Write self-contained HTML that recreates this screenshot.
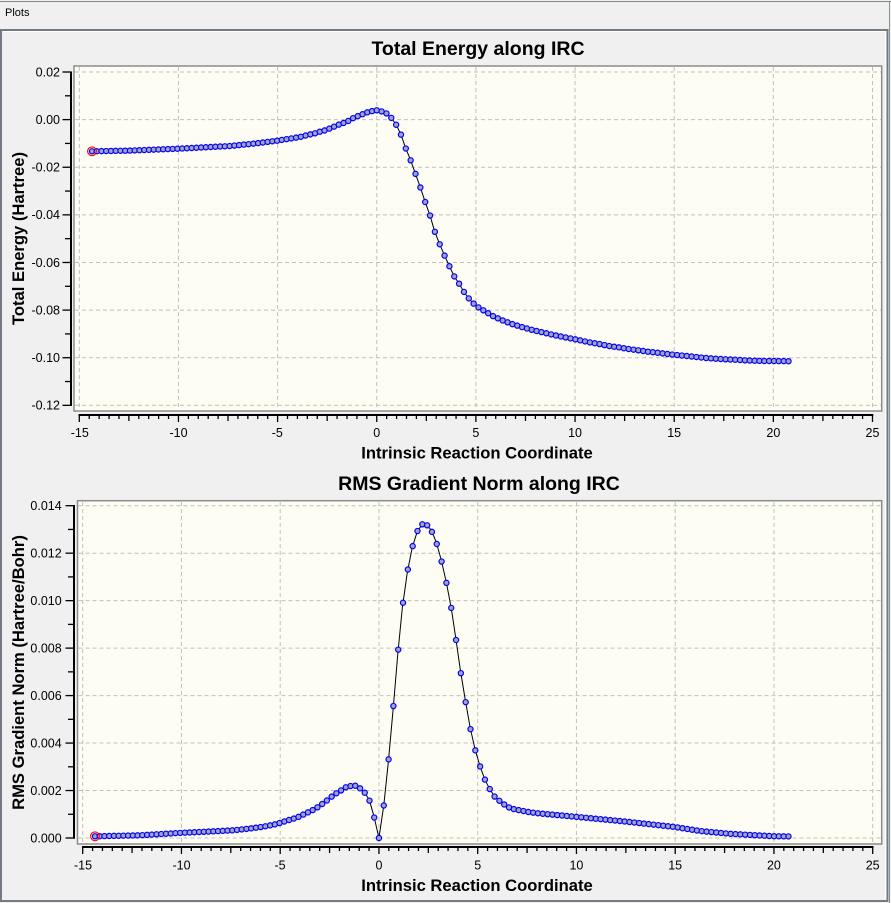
<!DOCTYPE html>
<html>
<head>
<meta charset="utf-8">
<style>
html,body{margin:0;padding:0;background:#f0f0f0;width:891px;height:903px;overflow:hidden}
svg{display:block}
</style>
</head>
<body>
<svg id="s" width="891" height="903" xmlns="http://www.w3.org/2000/svg" font-family="'Liberation Sans', Arial, sans-serif">
<rect width="891" height="903" fill="#f0f0f0"/>
<!-- window frame -->
<line x1="0" y1="1.5" x2="891" y2="1.5" stroke="#7f8a8a" stroke-width="1"/>
<line x1="889.5" y1="1" x2="889.5" y2="903" stroke="#8a9494" stroke-width="1"/>
<text x="5" y="16" font-size="11" fill="#000">Plots</text>
<!-- panel -->
<rect x="1" y="30" width="886.5" height="871" fill="#f0f0f0" stroke="#737a82" stroke-width="2"/>
<line x1="3" y1="31.5" x2="885" y2="31.5" stroke="#ffffff" stroke-width="1"/>
<line x1="885.5" y1="31" x2="885.5" y2="899" stroke="#ffffff" stroke-width="1"/>

<!-- ================= TOP CHART ================= -->
<rect x="74" y="66" width="807.7" height="345" fill="#fdfdf4" stroke="#8c8c8c" stroke-width="1.5"/>
<g stroke="#c0c0c0" stroke-width="1" stroke-dasharray="4,3">
<line x1="79.3" y1="67" x2="79.3" y2="410"/>
<line x1="178.45" y1="67" x2="178.45" y2="410"/>
<line x1="277.6" y1="67" x2="277.6" y2="410"/>
<line x1="376.75" y1="67" x2="376.75" y2="410"/>
<line x1="475.9" y1="67" x2="475.9" y2="410"/>
<line x1="575.05" y1="67" x2="575.05" y2="410"/>
<line x1="674.2" y1="67" x2="674.2" y2="410"/>
<line x1="773.35" y1="67" x2="773.35" y2="410"/>
<line x1="872.5" y1="67" x2="872.5" y2="410"/>
<line x1="75" y1="72" x2="881" y2="72"/>
<line x1="75" y1="119.6" x2="881" y2="119.6"/>
<line x1="75" y1="167.2" x2="881" y2="167.2"/>
<line x1="75" y1="214.9" x2="881" y2="214.9"/>
<line x1="75" y1="262.5" x2="881" y2="262.5"/>
<line x1="75" y1="310.1" x2="881" y2="310.1"/>
<line x1="75" y1="357.7" x2="881" y2="357.7"/>
<line x1="75" y1="405.3" x2="881" y2="405.3"/>
</g>
<!-- axes -->
<line x1="71" y1="71.5" x2="71" y2="406" stroke="#000" stroke-width="2"/>
<line x1="78.5" y1="415" x2="873.3" y2="415" stroke="#000" stroke-width="2"/>
<g id="ticks1" stroke="#000" stroke-width="1.3"></g>
<g font-size="12.5" fill="#000" text-anchor="end">
<text x="60" y="76.3">0.02</text>
<text x="60" y="123.9">0.00</text>
<text x="60" y="171.5">-0.02</text>
<text x="60" y="219.2">-0.04</text>
<text x="60" y="266.8">-0.06</text>
<text x="60" y="314.4">-0.08</text>
<text x="60" y="362">-0.10</text>
<text x="60" y="409.6">-0.12</text>
</g>
<g font-size="12.5" fill="#000" text-anchor="middle">
<text x="79.8" y="437">-15</text>
<text x="178.5" y="437">-10</text>
<text x="277.3" y="437">-5</text>
<text x="376.75" y="437">0</text>
<text x="475.9" y="437">5</text>
<text x="575.05" y="437">10</text>
<text x="674.2" y="437">15</text>
<text x="773.35" y="437">20</text>
<text x="872.5" y="437">25</text>
</g>
<text x="478" y="55" font-size="19.5" font-weight="bold" text-anchor="middle" fill="#000">Total Energy along IRC</text>
<text x="477" y="458.5" font-size="16.6" font-weight="bold" text-anchor="middle" fill="#000">Intrinsic Reaction Coordinate</text>
<text transform="translate(24,238.5) rotate(-90)" font-size="16.6" font-weight="bold" text-anchor="middle" fill="#000">Total Energy (Hartree)</text>
<polyline id="line1" fill="none" stroke="#000" stroke-width="1" points="92,151.3 130,150.6 178,148.7 230,146 255,143.5 277,140.7 300,137 309.3,134.5 313.3,134 318.3,132 323.3,131 328.3,129 333.3,127 337.7,125 342.7,123.3 347.7,121.3 352.7,118.3 357.3,116.3 362.3,114.3 367.3,112.3 372.3,111 376.75,110.3 381.3,111.3 386.3,113.3 391.7,118.3 396.3,125 401.3,135.3 405.3,147.3 410.3,159.3 415.3,173.3 420.3,187.3 425.3,202.3 430.3,216.3 434.3,230.3 439.3,243.3 444.3,255 449.3,266 454.3,276.5 459.3,284 464,292 468.7,298.3 473.3,303.3 478.3,307.3 483.3,310.3 488.3,313.3 493.3,316.3 502.3,320.3 512,324 521.7,327 531.3,329.7 541,332 550.7,334.3 560,336.3 570,338.3 580,340.3 589.3,342.3 599.3,344 609,346 618.7,347.3 628.3,349 638.3,350.3 648,351.7 657.3,352.7 667.3,354 676.7,355 686.7,356 696.3,357 706,358 715.7,358.7 725.3,359.3 735,359.7 744.7,360.3 754.3,360.7 764,361 773.7,361 789,361.2"/>
<g id="pts1"></g>

<!-- ================= BOTTOM CHART ================= -->
<rect x="77.5" y="500.7" width="804.2" height="343.3" fill="#fdfdf4" stroke="#8c8c8c" stroke-width="1.5"/>
<g stroke="#c0c0c0" stroke-width="1" stroke-dasharray="4,3">
<line x1="82.7" y1="502" x2="82.7" y2="843"/>
<line x1="181.45" y1="502" x2="181.45" y2="843"/>
<line x1="280.2" y1="502" x2="280.2" y2="843"/>
<line x1="378.95" y1="502" x2="378.95" y2="843"/>
<line x1="477.7" y1="502" x2="477.7" y2="843"/>
<line x1="576.45" y1="502" x2="576.45" y2="843"/>
<line x1="675.2" y1="502" x2="675.2" y2="843"/>
<line x1="773.95" y1="502" x2="773.95" y2="843"/>
<line x1="872.7" y1="502" x2="872.7" y2="843"/>
<line x1="78.5" y1="505.7" x2="881" y2="505.7"/>
<line x1="78.5" y1="553.2" x2="881" y2="553.2"/>
<line x1="78.5" y1="600.6" x2="881" y2="600.6"/>
<line x1="78.5" y1="648.1" x2="881" y2="648.1"/>
<line x1="78.5" y1="695.6" x2="881" y2="695.6"/>
<line x1="78.5" y1="743" x2="881" y2="743"/>
<line x1="78.5" y1="790.5" x2="881" y2="790.5"/>
<line x1="78.5" y1="838" x2="881" y2="838"/>
</g>
<line x1="74" y1="505" x2="74" y2="838.7" stroke="#000" stroke-width="2"/>
<line x1="82" y1="847" x2="873.5" y2="847" stroke="#000" stroke-width="2"/>
<g id="ticks2" stroke="#000" stroke-width="1.3"></g>
<g font-size="12.5" fill="#000" text-anchor="end">
<text x="61.7" y="510">0.014</text>
<text x="61.7" y="557.5">0.012</text>
<text x="61.7" y="604.9">0.010</text>
<text x="61.7" y="652.4">0.008</text>
<text x="61.7" y="699.9">0.006</text>
<text x="61.7" y="747.3">0.004</text>
<text x="61.7" y="794.8">0.002</text>
<text x="61.7" y="842.3">0.000</text>
</g>
<g font-size="12.5" fill="#000" text-anchor="middle">
<text x="83" y="869.3">-15</text>
<text x="181.5" y="869.3">-10</text>
<text x="280" y="869.3">-5</text>
<text x="378.95" y="869.3">0</text>
<text x="477.7" y="869.3">5</text>
<text x="576.45" y="869.3">10</text>
<text x="675.2" y="869.3">15</text>
<text x="773.95" y="869.3">20</text>
<text x="872.7" y="869.3">25</text>
</g>
<text x="479" y="490" font-size="19.5" font-weight="bold" text-anchor="middle" fill="#000">RMS Gradient Norm along IRC</text>
<text x="477" y="891" font-size="16.6" font-weight="bold" text-anchor="middle" fill="#000">Intrinsic Reaction Coordinate</text>
<text transform="translate(24,672.5) rotate(-90)" font-size="16.6" font-weight="bold" text-anchor="middle" fill="#000">RMS Gradient Norm (Hartree/Bohr)</text>
<polyline id="line2" fill="none" stroke="#000" stroke-width="1" points="95,836.3 140,835.3 181.7,832.8 200,832 220,831 233.3,830.3 248.3,828.7 263.3,826.7 276.7,824 286.7,820.7 296.7,817.7 306,813.3 315,809 325,802 334,794.7 340.7,790.7 345.7,787.3 350.7,786 355.7,785.7 360,788.3 364.3,792 369.3,800 373.7,815.3 378.95,838 383.8,805.3 388.5,760.3 393.3,707.3 397.7,655 402.3,608 407.3,572.3 412.3,547.3 417.3,531.3 422.3,524.3 426.3,524.3 431.3,530.3 436.3,542.3 441.3,560.3 446.3,582.3 451.3,608.3 455.8,638.3 460.5,671 465.3,700 470.3,728.3 475.3,750.3 480.3,767 484.8,779.3 489.3,788.3 494.3,796.3 499.3,800.7 504,804.3 508.7,807.3 513.3,809 518.3,810 523.3,811 528.3,812 538,813.3 576,816.8 625,821.5 675,827 700,831 730,833.8 773,836.2 789,836.4"/>
<g id="pts2"></g>
</svg>
<script>
(function(){
var NS='http://www.w3.org/2000/svg';
function el(tag,attrs,parent){var e=document.createElementNS(NS,tag);for(var k in attrs)e.setAttribute(k,attrs[k]);parent.appendChild(e);return e;}
function parse(id){var s=document.getElementById(id).getAttribute('points').trim().split(/\s+/);return s.map(function(p){var a=p.split(',');return [parseFloat(a[0]),parseFloat(a[1])];});}
function interp(A,x){if(x<=A[0][0])return A[0][1];for(var i=1;i<A.length;i++){if(x<=A[i][0]){var t=(x-A[i-1][0])/(A[i][0]-A[i-1][0]);return A[i-1][1]+t*(A[i][1]-A[i-1][1]);}}return A[A.length-1][1];}
function series(lineId,gid,x0,xs,xe,nl,nr){
  var A=parse(lineId),g=document.getElementById(gid),xsArr=[],k;
  for(k=nl;k>=1;k--)xsArr.push(x0-(x0-xs)*k/nl);
  xsArr.push(x0);
  for(k=1;k<=nr;k++)xsArr.push(x0+(xe-x0)*k/nr);
  xsArr.forEach(function(x){
    el('circle',{cx:x.toFixed(2),cy:interp(A,x).toFixed(2),r:'2.6',fill:'#a2a4b8',stroke:'#0000ff','stroke-width':'1.2'},g);
  });
  el('circle',{cx:xsArr[0].toFixed(2),cy:interp(A,xsArr[0]).toFixed(2),r:'4.4',fill:'none',stroke:'#ff0000','stroke-width':'1.1'},g);
}
series('line1','pts1',376.75,92,788.5,60,85);
series('line2','pts2',378.95,95,788.5,60,85);
function ticks(gid,x0,dx,yAxis,ytop,dy,xAxis){
  var g=document.getElementById(gid),i;
  for(i=0;i<=80;i++){
    var x=x0+i*dx*0.5;
    var len=(i%10==0)?7:((i%5==0)?6:4);
    el('line',{x1:x.toFixed(2),y1:yAxis,x2:x.toFixed(2),y2:(yAxis+len)},g);
  }
  for(i=0;i<=14;i++){
    var y=ytop+i*dy;
    var l=(i%2==0)?8.5:6;
    el('line',{x1:(xAxis-l),y1:y.toFixed(2),x2:xAxis,y2:y.toFixed(2)},g);
  }
}
ticks('ticks1',79.3,19.83,415,72,23.81,71);
ticks('ticks2',82.7,19.75,847,505.7,23.736,74);
})();
</script>
</body>
</html>
